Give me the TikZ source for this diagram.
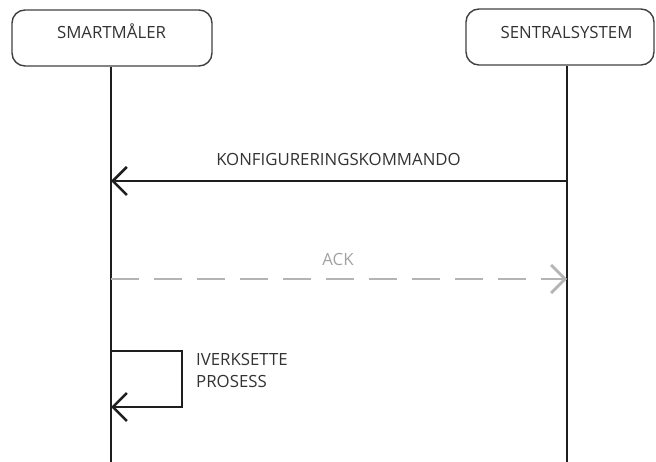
\documentclass[tikz,border=0pt]{standalone}
\usepackage{fontspec}
\setmainfont{Open Sans}
\usetikzlibrary{arrows.meta}
\definecolor{ink}{HTML}{1E1E1E}
\definecolor{labelgray}{HTML}{333333}
\definecolor{ackgray}{HTML}{B4B4B6}
\begin{document}
\begin{tikzpicture}[x=1pt,y=-1pt,
  actorbox/.style={draw=ink!85, line width=1.4pt, rounded corners=13pt, inner sep=0pt},
  actortext/.style={font=\fontsize{16.8}{22}\selectfont, text=labelgray, inner sep=0pt, anchor=base},
  lifeline/.style={draw=ink, line width=2.6pt},
  msgtext/.style={font=\fontsize{16.8}{22}\selectfont, text=labelgray, inner sep=0pt, anchor=base},
  callmsg/.style={draw=ink, line width=2.6pt,
    -{Straight Barb[length=14pt,width=28pt,line width=2.6pt]}},
  replymsg/.style={draw=ackgray, line width=2.8pt, dash pattern=on 28pt off 15pt,
    -{Straight Barb[length=14pt,width=28pt,line width=2.8pt]}},
]
\useasboundingbox (0,0) rectangle (656,462);

% participants
\node[actorbox, minimum width=200pt, minimum height=56pt] (smart) at (112,38) {};
\node[actortext] (smartlbl) at (111.5,38.3) {SMARTMÅLER};
\node[actorbox, minimum width=188pt, minimum height=56pt] (sentral) at (560,37) {};
\node[actortext] (sentrallbl) at (566.5,38.3) {SENTRALSYSTEM};

% lifelines
\coordinate (smartend) at (111,462);
\coordinate (sentralend) at (567,462);
\draw[lifeline] (smart.south -| smartend) -- (smartend);
\draw[lifeline] (sentral.south -| sentralend) -- (sentralend);

% configuration command
\coordinate (cmdfrom) at (567,181);
\coordinate (cmdto) at (111,181);
\draw[callmsg] (cmdfrom) -- (cmdto);
\node[msgtext] (cmdlbl) at (338.5,166) {KONFIGURERINGSKOMMANDO};

% acknowledgement
\coordinate (ackfrom) at (111,279);
\coordinate (ackto) at (567,279);
\draw[replymsg] (ackfrom) -- (ackto);
\node[msgtext, text=ackgray!90!black] (acklbl) at (338,265.7) {ACK};

% self call; the label's base anchor sits on its last line
\coordinate (selffrom) at (111,351);
\coordinate (selfto) at (111,407);
\draw[callmsg] (selffrom) -- (182,351) -- (182,407) -- (selfto);
\node[msgtext, anchor=base west, align=left] (selflbl) at (196,387) {IVERKSETTE\\PROSESS};
\end{tikzpicture}
\end{document}
